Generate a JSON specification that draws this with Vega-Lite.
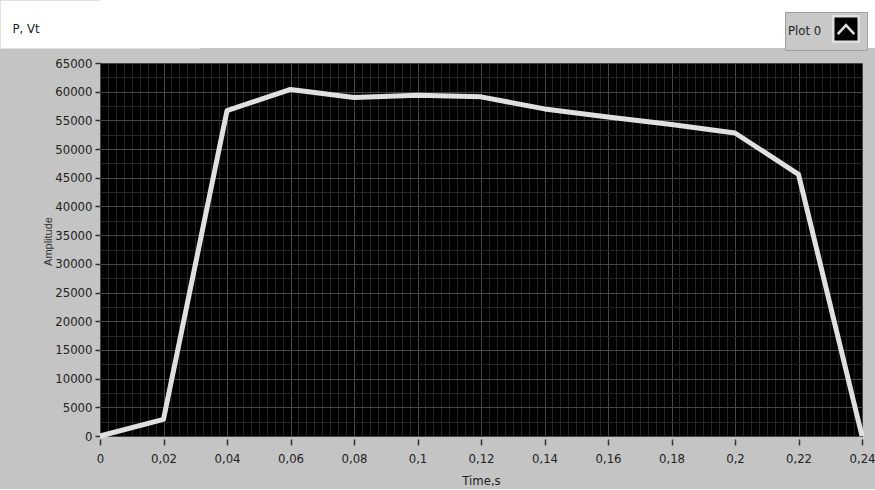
{
  "$schema": "https://vega.github.io/schema/vega-lite/v6.json",
  "background": "#c4c4c4",
  "padding": {"left": 0, "top": 0, "right": 0, "bottom": 2},
  "spacing": 9,
  "config": {"font": "DejaVu Sans Condensed, Liberation Sans Narrow, sans-serif"},
  "datasets": {
    "power": [
      {"t": 0, "p": 0, "series": "Plot 0"},
      {"t": 0.02, "p": 2900, "series": "Plot 0"},
      {"t": 0.04, "p": 56700, "series": "Plot 0"},
      {"t": 0.06, "p": 60400, "series": "Plot 0"},
      {"t": 0.08, "p": 59000, "series": "Plot 0"},
      {"t": 0.1, "p": 59400, "series": "Plot 0"},
      {"t": 0.12, "p": 59100, "series": "Plot 0"},
      {"t": 0.14, "p": 57000, "series": "Plot 0"},
      {"t": 0.16, "p": 55600, "series": "Plot 0"},
      {"t": 0.18, "p": 54300, "series": "Plot 0"},
      {"t": 0.2, "p": 52800, "series": "Plot 0"},
      {"t": 0.22, "p": 45600, "series": "Plot 0"},
      {"t": 0.24, "p": 0, "series": "Plot 0"}
    ]
  },
  "vconcat": [
    {
      "width": 775,
      "height": 48,
      "view": {"fill": "white", "stroke": null},
      "data": {"values": [{"v": 0.5}]},
      "mark": {"type": "point", "opacity": 0},
      "encoding": {
        "y": {
          "field": "v",
          "type": "quantitative",
          "scale": {"domain": [0, 1]},
          "axis": {
            "title": "P, Vt",
            "values": [0.5],
            "labels": false,
            "ticks": true,
            "tickSize": 99.5,
            "tickColor": "white",
            "tickWidth": 1,
            "grid": false,
            "domainColor": "white",
            "domainWidth": 200,
            "minExtent": 0,
            "titleAngle": 0,
            "titleX": -88,
            "titleY": 28,
            "titleAlign": "left",
            "titleBaseline": "middle",
            "titleFontSize": 13,
            "titleFontWeight": "normal",
            "titleColor": "#222222"
          }
        }
      }
    },
    {
      "width": 762,
      "height": 373,
      "view": {"fill": "black", "stroke": null},
      "data": {"name": "power"},
      "layer": [
        {
          "mark": {"type": "line", "opacity": 0},
          "encoding": {
            "x": {
              "field": "t",
              "type": "quantitative",
              "scale": {"domain": [0, 0.24], "nice": false, "zero": false},
              "axis": {
                "orient": "top",
                "values": [0.0025,0.005,0.0075,0.01,0.0125,0.015,0.0175,0.0225,0.025,0.0275,0.03,0.0325,0.035,0.0375,0.0425,0.045,0.0475,0.05,0.0525,0.055,0.0575,0.0625,0.065,0.0675,0.07,0.0725,0.075,0.0775,0.0825,0.085,0.0875,0.09,0.0925,0.095,0.0975,0.1025,0.105,0.1075,0.11,0.1125,0.115,0.1175,0.1225,0.125,0.1275,0.13,0.1325,0.135,0.1375,0.1425,0.145,0.1475,0.15,0.1525,0.155,0.1575,0.1625,0.165,0.1675,0.17,0.1725,0.175,0.1775,0.1825,0.185,0.1875,0.19,0.1925,0.195,0.1975,0.2025,0.205,0.2075,0.21,0.2125,0.215,0.2175,0.2225,0.225,0.2275,0.23,0.2325,0.235,0.2375],
                "labels": false,
                "ticks": false,
                "domain": false,
                "grid": true,
                "gridColor": "#242424",
                "gridWidth": 1,
                "title": null,
                "minExtent": 0
              }
            },
            "y": {
              "field": "p",
              "type": "quantitative",
              "scale": {"domain": [0, 65000], "nice": false},
              "axis": {
                "orient": "right",
                "values": [2500,7500,12500,17500,22500,27500,32500,37500,42500,47500,52500,57500,62500],
                "labels": false,
                "ticks": false,
                "domain": false,
                "grid": true,
                "gridColor": "#242424",
                "gridWidth": 1,
                "title": null,
                "minExtent": 0
              }
            }
          }
        },
        {
          "mark": {"type": "line", "strokeWidth": 5, "strokeJoin": "round"},
          "encoding": {
            "x": {
              "field": "t",
              "type": "quantitative",
              "scale": {"domain": [0, 0.24], "nice": false, "zero": false},
              "axis": {
                "orient": "bottom",
                "values": [0,0.02,0.04,0.06,0.08,0.1,0.12,0.14,0.16,0.18,0.2,0.22,0.24],
                "labelExpr": "replace(format(datum.value, '~g'), '.', ',')",
                "title": "Time,s",
                "grid": true,
                "gridColor": "#464646",
                "domain": false,
                "tickColor": "#333333",
                "tickSize": 6,
                "tickWidth": 1.5,
                "offset": 3,
                "labelPadding": 7,
                "labelFontSize": 13,
                "labelColor": "#222222",
                "labelFlush": false,
                "labelOverlap": false,
                "titleFontSize": 13,
                "titleFontWeight": "normal",
                "titleColor": "#222222",
                "titlePadding": 9
              }
            },
            "y": {
              "field": "p",
              "type": "quantitative",
              "scale": {"domain": [0, 65000], "nice": false},
              "axis": {
                "orient": "left",
                "values": [0,5000,10000,15000,20000,25000,30000,35000,40000,45000,50000,55000,60000,65000],
                "format": "d",
                "title": "Amplitude",
                "grid": true,
                "gridColor": "#464646",
                "domain": false,
                "tickColor": "#333333",
                "tickSize": 5,
                "tickWidth": 1.5,
                "labelPadding": 3,
                "labelFontSize": 13,
                "labelColor": "#222222",
                "labelFlush": false,
                "labelOverlap": false,
                "titleFont": "Liberation Sans, Arial, sans-serif",
                "titleFontSize": 11,
                "titleFontWeight": "normal",
                "titleColor": "#333333",
                "titleX": -52,
                "titleY": 178,
                "titleAlign": "center",
                "titleBaseline": "middle",
                "titleAngle": -90
              }
            },
            "color": {
              "field": "series",
              "type": "nominal",
              "scale": {"range": ["#e0e0e0"]},
              "legend": {
                "orient": "none",
                "legendX": 685,
                "legendY": 12,
                "title": "Plot 0",
                "titleOrient": "left",
                "titleFontSize": 13,
                "titleFontWeight": "normal",
                "titleColor": "#222222",
                "titlePadding": 10,
                "labelExpr": "''",
                "labelOffset": 0,
                "fillColor": "#c8c8c8",
                "strokeColor": "#a0a0a0",
                "padding": 3,
                "symbolType": "M-1,-1H1V1H-1Z M-0.65,0.4L0,-0.3L0.65,0.4",
                "symbolSize": 650,
                "symbolStrokeWidth": 2.5,
                "symbolFillColor": "black",
                "symbolStrokeColor": "#e6e6e6",
                "encode": {"symbols": {"update": {"fill": {"value": "black"}, "stroke": {"value": "#e6e6e6"}}}}
              }
            }
          }
        }
      ],
      "resolve": {"scale": {"x": "independent", "y": "independent"}}
    }
  ]
}
